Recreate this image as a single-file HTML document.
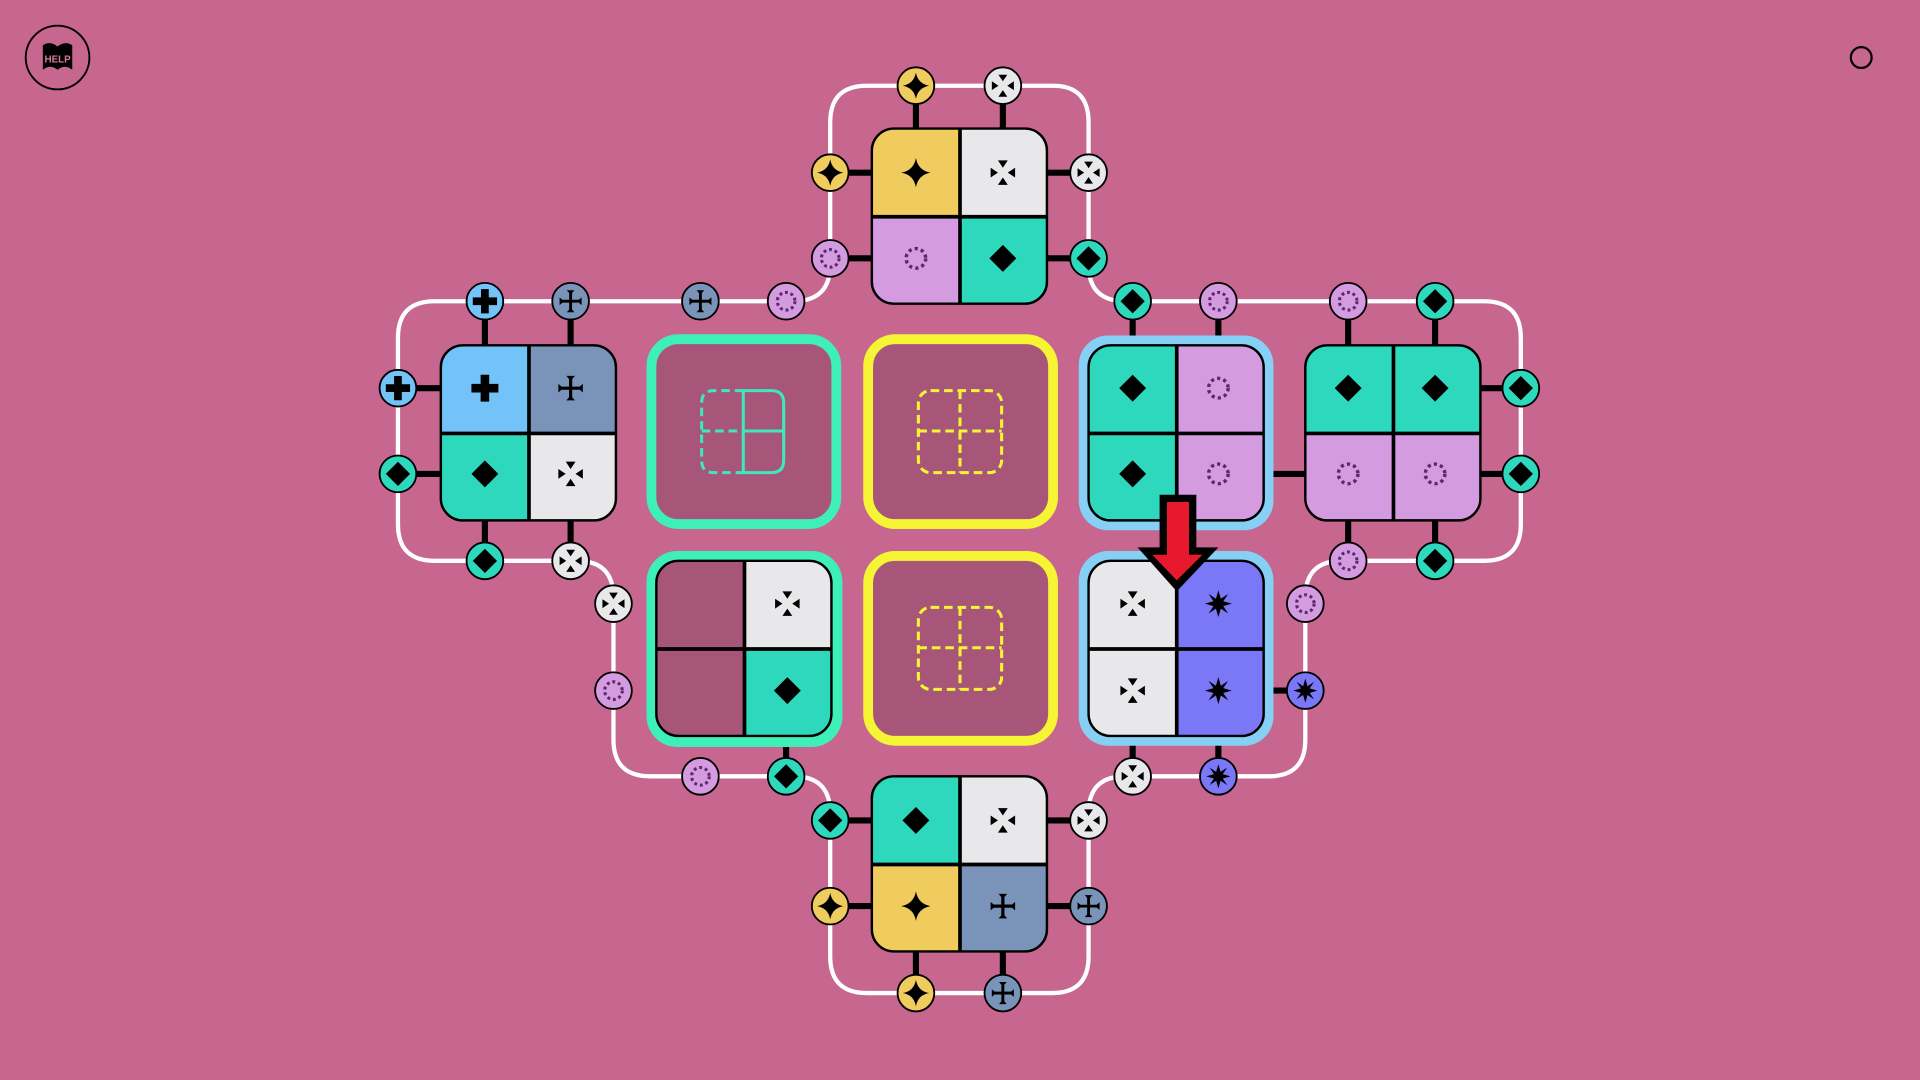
<!DOCTYPE html>
<html><head><meta charset="utf-8"><style>html,body{margin:0;padding:0;background:#c7668f;overflow:hidden}svg{display:block}</style></head><body>
<svg width="1920" height="1080" viewBox="0 0 1568 882" xmlns="http://www.w3.org/2000/svg">
<defs>
<g id="i-star"><path d="M0,-12 Q1.8,-1.8 12,0 Q1.8,1.8 0,12 Q-1.8,1.8 -12,0 Q-1.8,-1.8 0,-12Z" fill="#000"/></g>
<g id="i-dia"><path d="M0,-11 L11,0 L0,11 L-11,0Z" fill="#000"/></g>
<g id="i-arr" fill="#000"><path d="M-4,-10 L4,-10 L0,-4Z"/><path d="M-4,10 L4,10 L0,4Z"/><path d="M-10,-4 L-10,4 L-4,0Z"/><path d="M10,-4 L10,4 L4,0Z"/></g>
<g id="i-dot"><circle r="8" fill="none" stroke="#5a2a6a" stroke-width="2.8" stroke-dasharray="2.6 2.6"/></g>
<g id="i-plus"><path d="M-3.5,-11h7v7.5h7.5v7h-7.5v7.5h-7v-7.5h-7.5v-7h7.5z" fill="#000"/></g>
<g id="i-cross" fill="#000"><path d="M-1.3,-8 h2.6 v6.7 h6.7 v2.6 h-6.7 v6.7 h-2.6 v-6.7 h-6.7 v-2.6 h6.7z"/><path d="M-3.5,-10 h7 l-3.5,4z"/><path d="M-3.5,10 h7 l-3.5,-4z"/><path d="M-10,-3.5 v7 l4,-3.5z"/><path d="M10,-3.5 v7 l-4,-3.5z"/></g>
<g id="i-burst"><path d="M0,-11 L2,-4 L8,-8 L4,-2 L11,0 L4,2 L8,8 L2,4 L0,11 L-2,4 L-8,8 L-4,2 L-11,0 L-4,-2 L-8,-8 L-2,-4Z" fill="#000"/></g>
<clipPath id="c1"><rect x="712" y="105" width="143" height="143" rx="18"/></clipPath>
<clipPath id="c2"><rect x="360" y="282" width="143" height="143" rx="18"/></clipPath>
<clipPath id="c3"><rect x="889" y="282" width="143" height="143" rx="18"/></clipPath>
<clipPath id="c4"><rect x="1066" y="282" width="143" height="143" rx="18"/></clipPath>
<clipPath id="c5"><rect x="536" y="458" width="143" height="143" rx="18"/></clipPath>
<clipPath id="c6"><rect x="889" y="458" width="143" height="143" rx="18"/></clipPath>
<clipPath id="c7"><rect x="712" y="634" width="143" height="143" rx="18"/></clipPath>
</defs>

<circle cx="47" cy="47" r="26" fill="none" stroke="#000" stroke-width="1.5"/>
<path d="M35,37 Q41,33 47,38 Q53,33 59,37 L59,57 Q53,52 47,57 Q41,52 35,57Z" fill="#000"/>
<text x="47" y="51" font-family="Liberation Sans, sans-serif" font-size="8" font-weight="bold" fill="#d9789f" text-anchor="middle">HELP</text>
<circle cx="1520" cy="47" r="8.5" fill="none" stroke="#000" stroke-width="1.8"/>

<path d="M678,141 L678,100 Q678,70 708,70 L860,70 Q889,70 889,100 L889,216 Q889,246 919,246 L1212,246 Q1242,246 1242,276 L1242,428 Q1242,458 1212,458 L1096,458 Q1066,458 1066,488 L1066,604 Q1066,634 1036,634 L919,634 Q889,634 889,664 L889,781 Q889,811 859,811 L708,811 Q678,811 678,781 L678,664 Q678,634 648,634 L531,634 Q501,634 501,604 L501,488 Q501,458 471,458 L355,458 Q325,458 325,428 L325,276 Q325,246 355,246 L648,246 Q678,246 678,216 L678,141" fill="none" stroke="#fff" stroke-width="3.5"/>

<g stroke="#000" stroke-width="5">
<line x1="748" y1="70" x2="748" y2="105"/><line x1="819" y1="70" x2="819" y2="105"/>
<line x1="678" y1="141" x2="712" y2="141"/><line x1="678" y1="211" x2="712" y2="211"/>
<line x1="855" y1="141" x2="889" y2="141"/><line x1="855" y1="211" x2="889" y2="211"/>
<line x1="396" y1="246" x2="396" y2="282"/><line x1="466" y1="246" x2="466" y2="282"/>
<line x1="325" y1="317" x2="360" y2="317"/><line x1="325" y1="387" x2="360" y2="387"/>
<line x1="396" y1="424" x2="396" y2="458"/><line x1="466" y1="424" x2="466" y2="458"/>
<line x1="925" y1="246" x2="925" y2="282"/><line x1="995" y1="246" x2="995" y2="282"/>
<line x1="1101" y1="246" x2="1101" y2="282"/><line x1="1172" y1="246" x2="1172" y2="282"/>
<line x1="1208" y1="317" x2="1242" y2="317"/><line x1="1208" y1="387" x2="1242" y2="387"/>
<line x1="1101" y1="424" x2="1101" y2="458"/><line x1="1172" y1="424" x2="1172" y2="458"/>
<line x1="1032" y1="387" x2="1066" y2="387"/>
<line x1="1032" y1="564" x2="1066" y2="564"/>
<line x1="925" y1="601" x2="925" y2="634"/><line x1="995" y1="601" x2="995" y2="634"/>
<line x1="642" y1="601" x2="642" y2="634"/>
<line x1="678" y1="670" x2="712" y2="670"/><line x1="678" y1="740" x2="712" y2="740"/>
<line x1="855" y1="670" x2="889" y2="670"/><line x1="855" y1="740" x2="889" y2="740"/>
<line x1="748" y1="777" x2="748" y2="811"/><line x1="819" y1="777" x2="819" y2="811"/>
</g>

<rect x="532" y="277" width="151" height="151" rx="22" fill="#a8557a" stroke="#3ef0b8" stroke-width="8"/>
<rect x="709" y="277" width="151" height="151" rx="22" fill="#a8557a" stroke="#f5f535" stroke-width="8"/>
<rect x="709" y="454" width="151" height="151" rx="22" fill="#a8557a" stroke="#f5f535" stroke-width="8"/>
<rect x="528" y="450" width="160" height="160" rx="25" fill="#3ef0b8"/>
<rect x="881" y="274" width="159" height="159" rx="24" fill="#86d0f6"/>
<rect x="881" y="450" width="159" height="159" rx="24" fill="#86d0f6"/>

<g fill="none" stroke="#3ee8b8" stroke-width="2.5">
<path d="M607,319 L630,319 Q640,319 640,329 L640,376 Q640,386 630,386 L607,386 Z M607,352 L640,352"/>
<path d="M607,319 L583,319 Q573,319 573,329 L573,376 Q573,386 583,386 L607,386 M573,352 L607,352" stroke-dasharray="7 4"/>
</g>
<g fill="none" stroke="#f5f535" stroke-width="2.5" stroke-dasharray="7 4">
<rect x="750" y="319" width="68" height="67" rx="10"/><path d="M784,319V386M750,352H818"/>
<rect x="750" y="496" width="68" height="67" rx="10"/><path d="M784,496V563M750,529H818"/>
</g>

<g clip-path="url(#c1)"><rect x="712" y="105" width="72" height="72" fill="#f0cc5f"/><rect x="784" y="105" width="72" height="72" fill="#e8e8ea"/><rect x="712" y="177" width="72" height="72" fill="#d49be0"/><rect x="784" y="177" width="72" height="72" fill="#2ed8bc"/></g>
<g clip-path="url(#c2)"><rect x="360" y="282" width="72" height="72" fill="#74c3f8"/><rect x="432" y="282" width="72" height="72" fill="#7a93b8"/><rect x="360" y="354" width="72" height="72" fill="#2ed8bc"/><rect x="432" y="354" width="72" height="72" fill="#e8e8ea"/></g>
<g clip-path="url(#c3)"><rect x="889" y="282" width="72" height="72" fill="#2ed8bc"/><rect x="961" y="282" width="72" height="72" fill="#d49be0"/><rect x="889" y="354" width="72" height="72" fill="#2ed8bc"/><rect x="961" y="354" width="72" height="72" fill="#d49be0"/></g>
<g clip-path="url(#c4)"><rect x="1066" y="282" width="72" height="72" fill="#2ed8bc"/><rect x="1138" y="282" width="72" height="72" fill="#2ed8bc"/><rect x="1066" y="354" width="72" height="72" fill="#d49be0"/><rect x="1138" y="354" width="72" height="72" fill="#d49be0"/></g>
<g clip-path="url(#c5)"><rect x="536" y="458" width="72" height="72" fill="#a8557a"/><rect x="608" y="458" width="72" height="72" fill="#e8e8ea"/><rect x="536" y="530" width="72" height="72" fill="#a8557a"/><rect x="608" y="530" width="72" height="72" fill="#2ed8bc"/></g>
<g clip-path="url(#c6)"><rect x="889" y="458" width="72" height="72" fill="#e8e8ea"/><rect x="961" y="458" width="72" height="72" fill="#7b78f8"/><rect x="889" y="530" width="72" height="72" fill="#e8e8ea"/><rect x="961" y="530" width="72" height="72" fill="#7b78f8"/></g>
<g clip-path="url(#c7)"><rect x="712" y="634" width="72" height="72" fill="#2ed8bc"/><rect x="784" y="634" width="72" height="72" fill="#e8e8ea"/><rect x="712" y="706" width="72" height="72" fill="#f0cc5f"/><rect x="784" y="706" width="72" height="72" fill="#7a93b8"/></g>
<g fill="none" stroke="#000">
<rect x="712" y="105" width="143" height="143" rx="18" stroke-width="2"/><path d="M784,105V248M712,177H855" stroke-width="3"/>
<rect x="360" y="282" width="143" height="143" rx="18" stroke-width="2"/><path d="M432,282V425M360,354H503" stroke-width="3"/>
<rect x="889" y="282" width="143" height="143" rx="18" stroke-width="2"/><path d="M961,282V425M889,354H1032" stroke-width="3"/>
<rect x="1066" y="282" width="143" height="143" rx="18" stroke-width="2"/><path d="M1138,282V425M1066,354H1209" stroke-width="3"/>
<rect x="536" y="458" width="143" height="143" rx="18" stroke-width="2"/><path d="M608,458V601M536,530H679" stroke-width="3"/>
<rect x="889" y="458" width="143" height="143" rx="18" stroke-width="2"/><path d="M961,458V601M889,530H1032" stroke-width="3"/>
<rect x="712" y="634" width="143" height="143" rx="18" stroke-width="2"/><path d="M784,634V777M712,706H855" stroke-width="3"/>
</g>
<use href="#i-star" x="748" y="141"/><use href="#i-arr" x="819" y="141"/><use href="#i-dot" x="748" y="211"/><use href="#i-dia" x="819" y="211"/>
<use href="#i-plus" x="396" y="317"/><use href="#i-cross" x="466" y="317"/><use href="#i-dia" x="396" y="387"/><use href="#i-arr" x="466" y="387"/>
<use href="#i-dia" x="925" y="317"/><use href="#i-dot" x="995" y="317"/><use href="#i-dia" x="925" y="387"/><use href="#i-dot" x="995" y="387"/>
<use href="#i-dia" x="1101" y="317"/><use href="#i-dia" x="1172" y="317"/><use href="#i-dot" x="1101" y="387"/><use href="#i-dot" x="1172" y="387"/>
<use href="#i-arr" x="643" y="493"/><use href="#i-dia" x="643" y="564"/>
<use href="#i-arr" x="925" y="493"/><use href="#i-burst" x="995" y="493"/><use href="#i-arr" x="925" y="564"/><use href="#i-burst" x="995" y="564"/>
<use href="#i-dia" x="748" y="670"/><use href="#i-arr" x="819" y="670"/><use href="#i-star" x="748" y="740"/><use href="#i-cross" x="819" y="740"/>

<g stroke="#000" stroke-width="1.5">
<circle cx="748" cy="70" r="15" fill="#f0cc5f"/><circle cx="819" cy="70" r="15" fill="#e8e8ea"/>
<circle cx="678" cy="141" r="15" fill="#f0cc5f"/><circle cx="678" cy="211" r="15" fill="#d49be0"/>
<circle cx="889" cy="141" r="15" fill="#e8e8ea"/><circle cx="889" cy="211" r="15" fill="#2ed8bc"/>
<circle cx="396" cy="246" r="15" fill="#74c3f8"/><circle cx="466" cy="246" r="15" fill="#7a93b8"/>
<circle cx="572" cy="246" r="15" fill="#7a93b8"/><circle cx="642" cy="246" r="15" fill="#d49be0"/>
<circle cx="925" cy="246" r="15" fill="#2ed8bc"/><circle cx="995" cy="246" r="15" fill="#d49be0"/>
<circle cx="1101" cy="246" r="15" fill="#d49be0"/><circle cx="1172" cy="246" r="15" fill="#2ed8bc"/>
<circle cx="325" cy="317" r="15" fill="#74c3f8"/><circle cx="325" cy="387" r="15" fill="#2ed8bc"/>
<circle cx="1242" cy="317" r="15" fill="#2ed8bc"/><circle cx="1242" cy="387" r="15" fill="#2ed8bc"/>
<circle cx="396" cy="458" r="15" fill="#2ed8bc"/><circle cx="466" cy="458" r="15" fill="#e8e8ea"/>
<circle cx="1101" cy="458" r="15" fill="#d49be0"/><circle cx="1172" cy="458" r="15" fill="#2ed8bc"/>
<circle cx="501" cy="493" r="15" fill="#e8e8ea"/><circle cx="501" cy="564" r="15" fill="#d49be0"/>
<circle cx="1066" cy="493" r="15" fill="#d49be0"/><circle cx="1066" cy="564" r="15" fill="#7b78f8"/>
<circle cx="572" cy="634" r="15" fill="#d49be0"/><circle cx="642" cy="634" r="15" fill="#2ed8bc"/>
<circle cx="925" cy="634" r="15" fill="#e8e8ea"/><circle cx="995" cy="634" r="15" fill="#7b78f8"/>
<circle cx="678" cy="670" r="15" fill="#2ed8bc"/><circle cx="678" cy="740" r="15" fill="#f0cc5f"/>
<circle cx="889" cy="670" r="15" fill="#e8e8ea"/><circle cx="889" cy="740" r="15" fill="#7a93b8"/>
<circle cx="748" cy="811" r="15" fill="#f0cc5f"/><circle cx="819" cy="811" r="15" fill="#7a93b8"/>
</g>
<g transform="translate(748 70) scale(0.9)"><use href="#i-star"/></g><g transform="translate(819 70) scale(0.9)"><use href="#i-arr"/></g>
<g transform="translate(678 141) scale(0.9)"><use href="#i-star"/></g><g transform="translate(678 211) scale(0.9)"><use href="#i-dot"/></g>
<g transform="translate(889 141) scale(0.9)"><use href="#i-arr"/></g><g transform="translate(889 211) scale(0.9)"><use href="#i-dia"/></g>
<g transform="translate(396 246) scale(0.9)"><use href="#i-plus"/></g><g transform="translate(466 246) scale(0.9)"><use href="#i-cross"/></g>
<g transform="translate(572 246) scale(0.9)"><use href="#i-cross"/></g><g transform="translate(642 246) scale(0.9)"><use href="#i-dot"/></g>
<g transform="translate(925 246) scale(0.9)"><use href="#i-dia"/></g><g transform="translate(995 246) scale(0.9)"><use href="#i-dot"/></g>
<g transform="translate(1101 246) scale(0.9)"><use href="#i-dot"/></g><g transform="translate(1172 246) scale(0.9)"><use href="#i-dia"/></g>
<g transform="translate(325 317) scale(0.9)"><use href="#i-plus"/></g><g transform="translate(325 387) scale(0.9)"><use href="#i-dia"/></g>
<g transform="translate(1242 317) scale(0.9)"><use href="#i-dia"/></g><g transform="translate(1242 387) scale(0.9)"><use href="#i-dia"/></g>
<g transform="translate(396 458) scale(0.9)"><use href="#i-dia"/></g><g transform="translate(466 458) scale(0.9)"><use href="#i-arr"/></g>
<g transform="translate(1101 458) scale(0.9)"><use href="#i-dot"/></g><g transform="translate(1172 458) scale(0.9)"><use href="#i-dia"/></g>
<g transform="translate(501 493) scale(0.9)"><use href="#i-arr"/></g><g transform="translate(501 564) scale(0.9)"><use href="#i-dot"/></g>
<g transform="translate(1066 493) scale(0.9)"><use href="#i-dot"/></g><g transform="translate(1066 564) scale(0.9)"><use href="#i-burst"/></g>
<g transform="translate(572 634) scale(0.9)"><use href="#i-dot"/></g><g transform="translate(642 634) scale(0.9)"><use href="#i-dia"/></g>
<g transform="translate(925 634) scale(0.9)"><use href="#i-arr"/></g><g transform="translate(995 634) scale(0.9)"><use href="#i-burst"/></g>
<g transform="translate(678 670) scale(0.9)"><use href="#i-dia"/></g><g transform="translate(678 740) scale(0.9)"><use href="#i-star"/></g>
<g transform="translate(889 670) scale(0.9)"><use href="#i-arr"/></g><g transform="translate(889 740) scale(0.9)"><use href="#i-cross"/></g>
<g transform="translate(748 811) scale(0.9)"><use href="#i-star"/></g><g transform="translate(819 811) scale(0.9)"><use href="#i-cross"/></g>

<path d="M947,404 L977,404 L977,447 L995,447 L961,483 L929,447 L947,447Z" fill="#000"/>
<path d="M953,410 L971,410 L971,453 L982,453 L961,474 L941,453 L953,453Z" fill="#e8192c"/>
</svg>
</body></html>
